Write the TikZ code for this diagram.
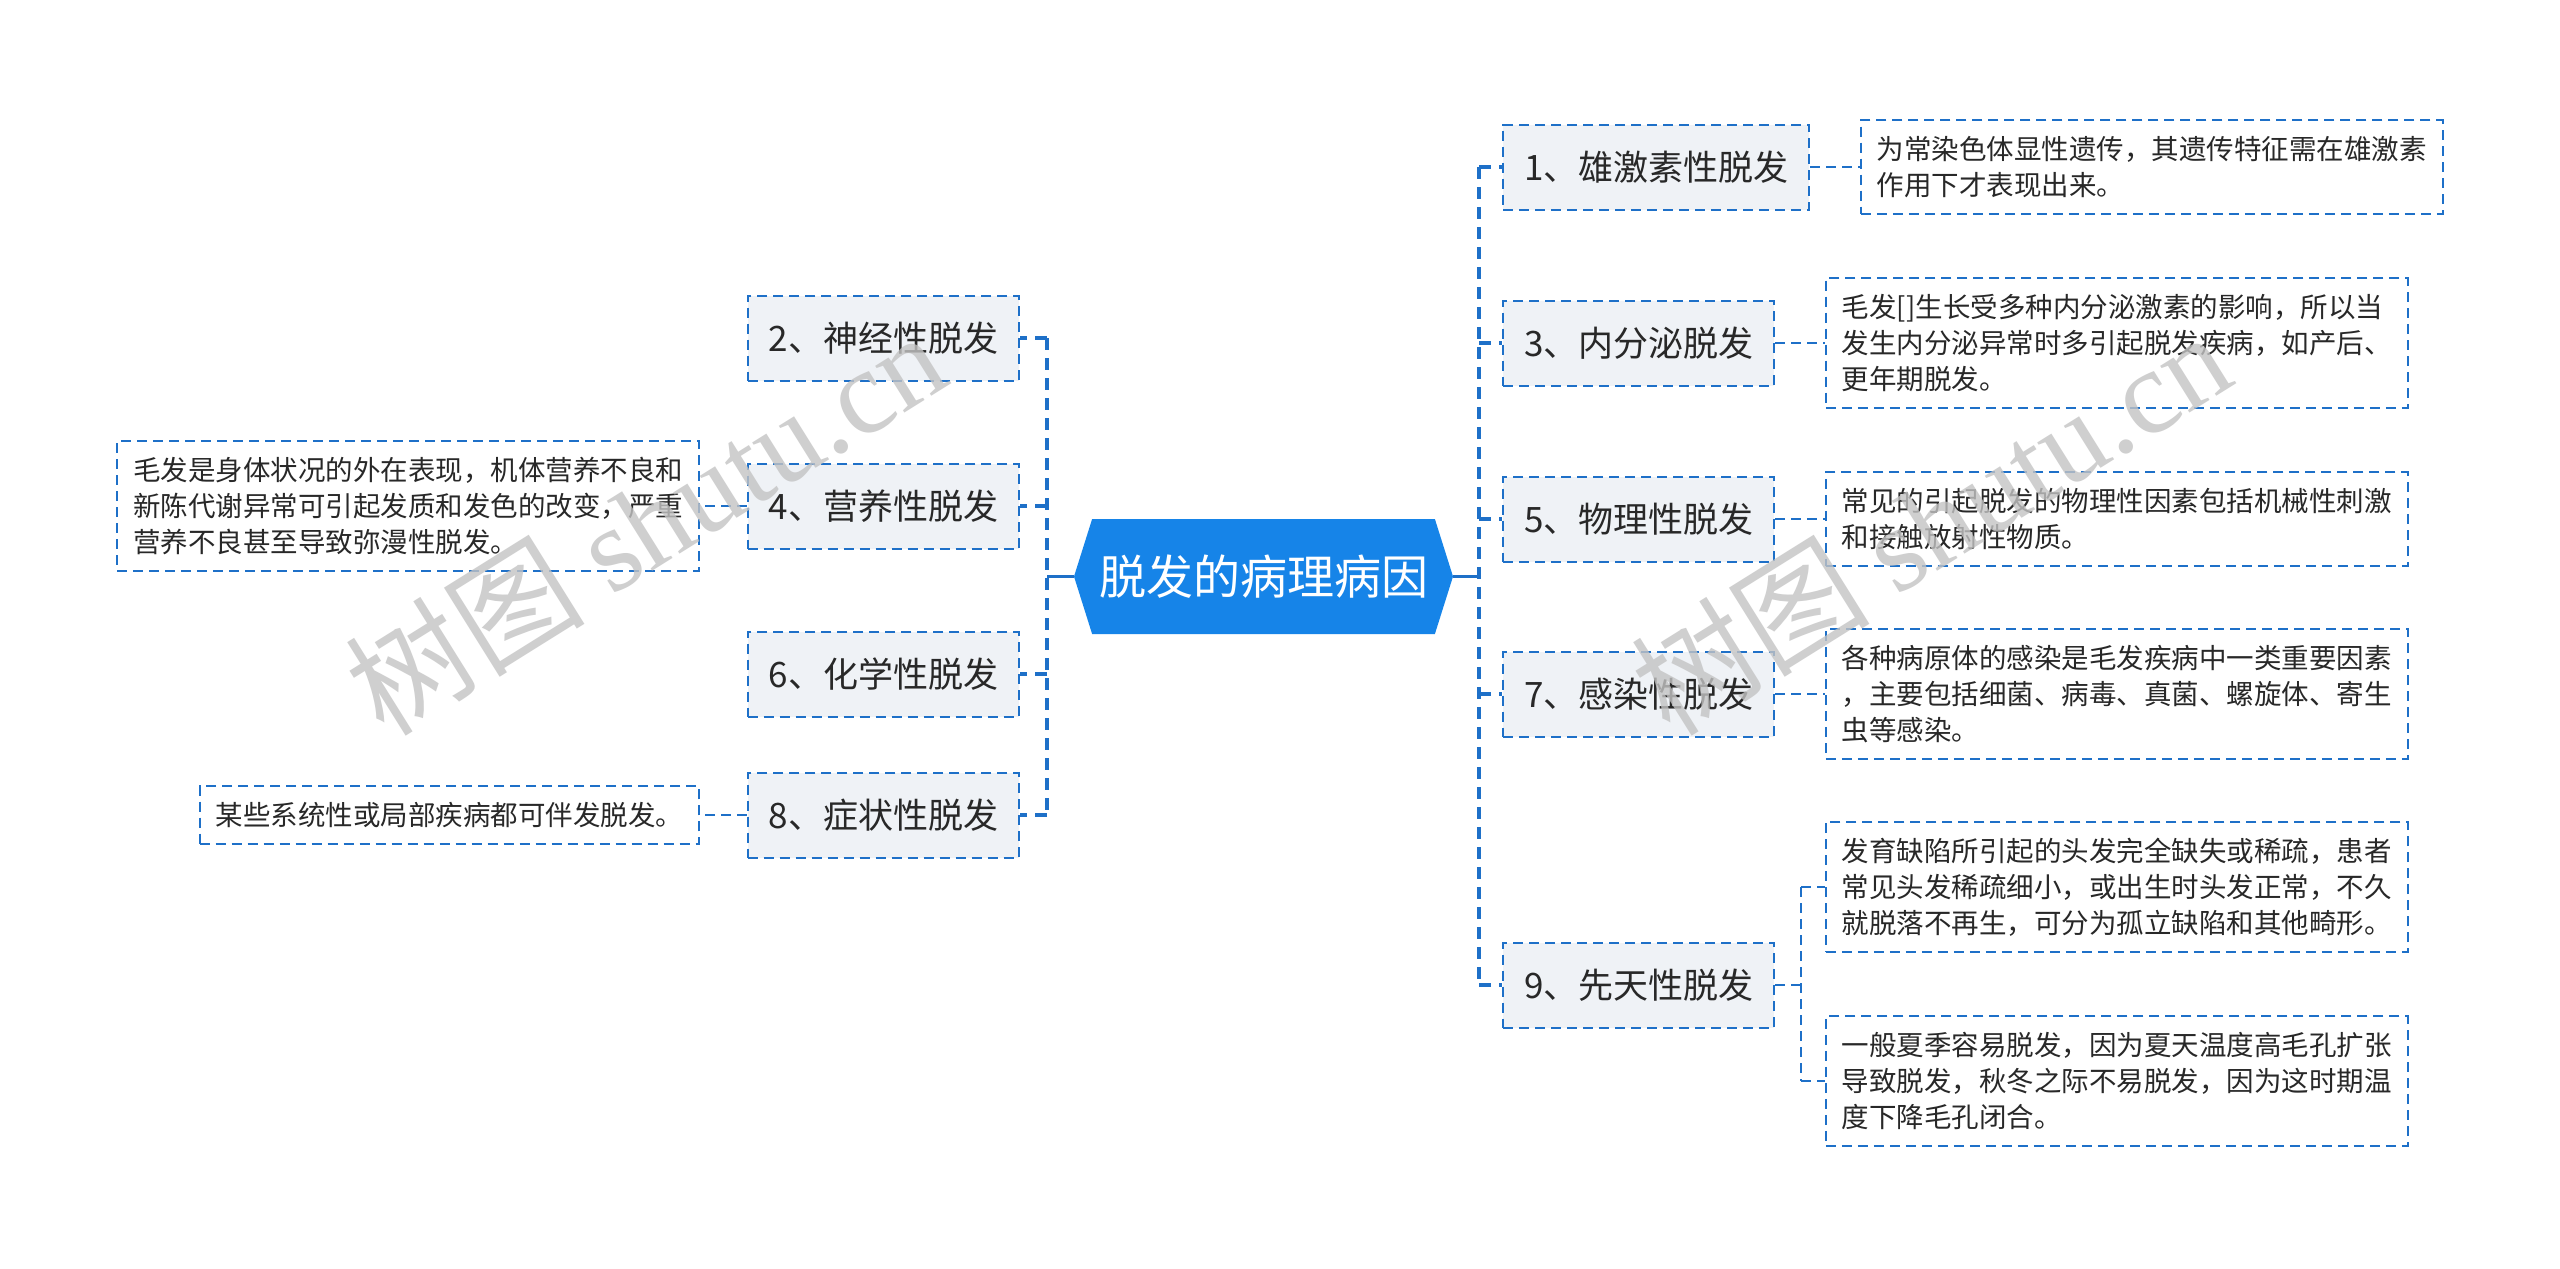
\documentclass[tikz,border=0pt]{standalone}
\usepackage{fontspec}
\setmainfont{Noto Sans CJK SC}
\newfontfamily\wmlatin{Liberation Serif}
\usetikzlibrary{shapes.symbols}

\definecolor{shublue}{RGB}{22,132,232}
\definecolor{shuline}{RGB}{30,112,200}
\definecolor{shufill}{RGB}{239,242,246}
\definecolor{shutext}{RGB}{40,40,40}
\definecolor{shugray}{RGB}{195,195,195}

\begin{document}
\begin{tikzpicture}[
    x=0.5pt, y=-0.5pt,
    rootbox/.style={signal, signal to=east and west, signal pointer angle=145,
      fill=shublue, text=white, font=\fontsize{23.5}{28}\selectfont,
      minimum width=189.5pt, minimum height=57.5pt, inner sep=0pt},
    topic/.style={draw=shuline, line width=1pt, dash pattern=on 5pt off 3pt,
      fill=shufill, text=shutext, font=\fontsize{17.5}{21}\selectfont,
      inner xsep=10.5pt, minimum height=42.5pt},
    leaf/.style={draw=shuline, line width=0.9pt, dash pattern=on 5pt off 3pt,
      fill=white, text=shutext, font=\fontsize{13.75}{18}\selectfont,
      align=left, inner xsep=8pt, inner ysep=8pt},
    spine/.style={shuline, line width=1.8pt, dash pattern=on 6pt off 4pt},
    twig/.style={shuline, line width=1pt, dash pattern=on 5pt off 3pt},
    stem/.style={shuline, line width=1.6pt},
    wmark/.style={text=shugray, text opacity=0.8, rotate=32,
      font=\fontsize{60}{62}\selectfont},
  ]
    \fill[white] (0,0) rectangle (2560,1269);
    \useasboundingbox (0,0) rectangle (2560,1269);

    % === root ===
    \node[rootbox] (root) at (1263.5,576.5) {脱发的病理病因};

    % === right topics ===
    \node[topic, anchor=west] (t1) at (1502,167) {1、雄激素性脱发};
    \node[topic, anchor=west] (t3) at (1502,343) {3、内分泌脱发};
    \node[topic, anchor=west] (t5) at (1502,519) {5、物理性脱发};
    \node[topic, anchor=west] (t7) at (1502,694) {7、感染性脱发};
    \node[topic, anchor=west] (t9) at (1502,985) {9、先天性脱发};

    % === left topics ===
    \node[topic, anchor=east] (t2) at (1020,338) {2、神经性脱发};
    \node[topic, anchor=east] (t4) at (1020,506) {4、营养性脱发};
    \node[topic, anchor=east] (t6) at (1020,674) {6、化学性脱发};
    \node[topic, anchor=east] (t8) at (1020,815) {8、症状性脱发};

    % --- right details ---
    \node[leaf, anchor=west] (d1) at (1860,167)
      {为常染色体显性遗传，其遗传特征需在雄激素\\作用下才表现出来。};
    \node[leaf, anchor=west] (d3) at (1825,343)
      {毛发[]生长受多种内分泌激素的影响，所以当\\发生内分泌异常时多引起脱发疾病，如产后、\\更年期脱发。};
    \node[leaf, anchor=west] (d5) at (1825,519)
      {常见的引起脱发的物理性因素包括机械性刺激\\和接触放射性物质。};
    \node[leaf, anchor=west] (d7) at (1825,694)
      {各种病原体的感染是毛发疾病中一类重要因素\\，主要包括细菌、病毒、真菌、螺旋体、寄生\\虫等感染。};
    \node[leaf, anchor=west] (d9a) at (1825,887)
      {发育缺陷所引起的头发完全缺失或稀疏，患者\\常见头发稀疏细小，或出生时头发正常，不久\\就脱落不再生，可分为孤立缺陷和其他畸形。};
    \node[leaf, anchor=west] (d9b) at (1825,1081)
      {一般夏季容易脱发，因为夏天温度高毛孔扩张\\导致脱发，秋冬之际不易脱发，因为这时期温\\度下降毛孔闭合。};

    % --- left details ---
    \node[leaf, anchor=east] (d4) at (700,506)
      {毛发是身体状况的外在表现，机体营养不良和\\新陈代谢异常可引起发质和发色的改变，严重\\营养不良甚至导致弥漫性脱发。};
    \node[leaf, anchor=east] (d8) at (700,815)
      {某些系统性或局部疾病都可伴发脱发。};

    % === connectors ===
    \coordinate (ls) at (1047,576.5);
    \coordinate (rs) at (1479,576.5);
    \coordinate (ss) at (1801,985);

    \draw[stem] (root.west) -- (ls);
    \draw[stem] (root.east) -- (rs);

    \draw[spine] (ls |- t2.east) -- (ls |- t8.east);
    \foreach \t in {t2,t4,t6,t8}
      \draw[spine] (ls |- \t.east) -- (\t.east);

    \draw[spine] (rs |- t1.west) -- (rs |- t9.west);
    \foreach \t in {t1,t3,t5,t7,t9}
      \draw[spine] (rs |- \t.west) -- (\t.west);

    \foreach \t/\d in {t1/d1,t3/d3,t5/d5,t7/d7}
      \draw[twig] (\t.east) -- (\d.west);
    \foreach \t/\d in {t4/d4,t8/d8}
      \draw[twig] (\t.west) -- (\d.east);

    \draw[twig] (t9.east) -- (ss);
    \draw[twig] (ss |- d9a.west) -- (ss |- d9b.west);
    \foreach \d in {d9a,d9b}
      \draw[twig] (ss |- \d.west) -- (\d.west);

    % --- watermarks ---
    \node[wmark] (wm1) at (645,522) {树图 {\wmlatin shutu.cn}};
    \node[wmark] (wm2) at (1930,522) {树图 {\wmlatin shutu.cn}};
\end{tikzpicture}
\end{document}
